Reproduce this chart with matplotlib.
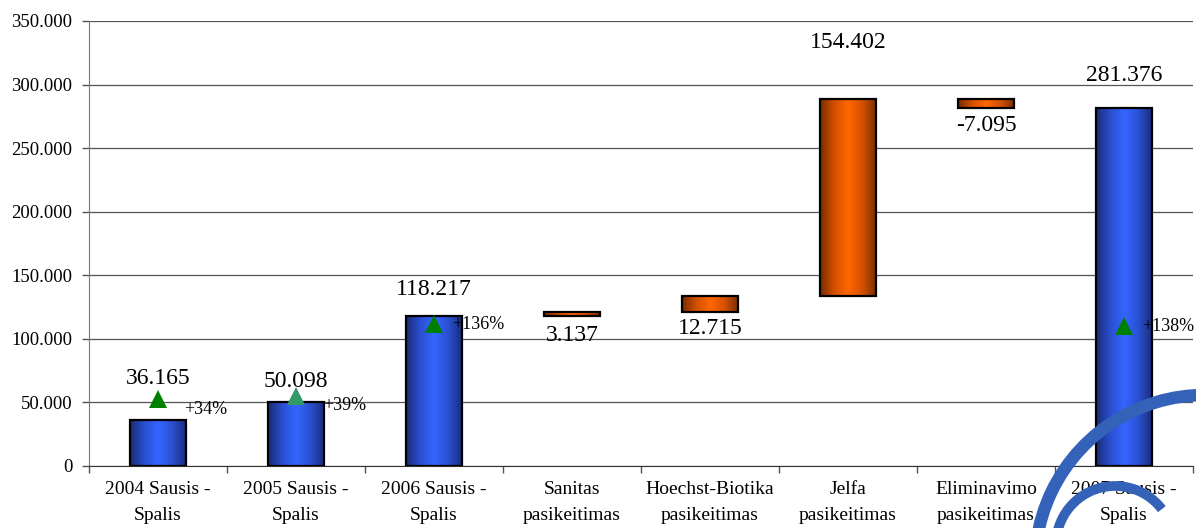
import numpy as np
import matplotlib
matplotlib.use("Agg")
import matplotlib.pyplot as plt
from matplotlib.colors import LinearSegmentedColormap
from matplotlib.patches import Arc
from matplotlib.ticker import FuncFormatter, FixedLocator

plt.rcParams['font.family'] = ['Liberation Serif', 'DejaVu Serif']

# Data
categories = ["2004 Sausis -\nSpalis", "2005 Sausis -\nSpalis", "2006 Sausis -\nSpalis",
              "Sanitas\npasikeitimas", "Hoechst-Biotika\npasikeitimas", "Jelfa\npasikeitimas",
              "Eliminavimo\npasikeitimas", "2007 Sausis -\nSpalis"]
start_totals = [36165, 50098, 118217]
changes = [3137, 12715, 154402, -7095]
end_total = 281376

# growth markers (category index, marker height, label)
growth_idx = [0, 1, 2, 7]
growth_y = [52700, 55000, 111700, 110000]
growth_labels = ["+34%", "+39%", "+136%", "+138%"]
growth_colors = ["#008000", "#339966", "#008000", "#008000"]

# label offsets in pixels (positive: above top of bar, negative: below low end)
label_off_px = [42, 21, 26, -20, -17, 57, -17, 33]
pct_off_px = [(26, -11), (27, -9), (18, -1), (18, 0)]

# build waterfall
bottoms, heights, kinds = [], [], []
for v in start_totals:
    bottoms.append(0); heights.append(v); kinds.append("total")
level = start_totals[-1]
for c in changes:
    bottoms.append(level); heights.append(c); kinds.append("change")
    level += c
bottoms.append(0); heights.append(end_total); kinds.append("total")
values = start_totals + changes + [end_total]

blue_cmap = LinearSegmentedColormap.from_list("b", ["#3466ff", "#2a4fcf", "#1a2a75"])
orange_cmap = LinearSegmentedColormap.from_list("o", ["#ff6600", "#d35000", "#772c00"])

fig = plt.figure(figsize=(11.96, 5.28), dpi=100)
ax = fig.add_axes([89 / 1196, 1 - 466 / 528, 1104 / 1196, 445 / 528])

width = 0.41
grad = np.abs(np.linspace(-1, 1, 256)).reshape(1, -1)
for i, (b, h, k) in enumerate(zip(bottoms, heights, kinds)):
    bar = ax.bar(i, h, width, bottom=b, facecolor='none', edgecolor='black',
                 linewidth=1.6, zorder=4)[0]
    im = ax.imshow(grad, cmap=blue_cmap if k == "total" else orange_cmap,
                   extent=[i - width / 2, i + width / 2, b, b + h],
                   aspect='auto', zorder=3, interpolation='bilinear')
    im.set_clip_path(bar)

# value labels
for i, (b, h, v) in enumerate(zip(bottoms, heights, values)):
    off = label_off_px[i]
    if off > 0:
        y = max(b, b + h)
    else:
        y = min(b, b + h)
    ax.annotate(f"{v:,}".replace(",", "."), (i, y), xytext=(0, off * 0.72),
                textcoords='offset points', ha='center', va='center', fontsize=17, zorder=6)

# growth triangles and percentages
for j, i in enumerate(growth_idx):
    ax.plot(i, growth_y[j], marker='^', markersize=13, color=growth_colors[j],
            markeredgewidth=0, linestyle='none', zorder=5)
    dx, dy = pct_off_px[j]
    ax.annotate(growth_labels[j], (i, growth_y[j]), xytext=(dx * 0.72, dy * 0.72),
                textcoords='offset points', ha='left', va='center', fontsize=13, zorder=6)

ax.set_xlim(-0.5, 7.5)
ax.set_ylim(0, 350000)
ax.set_yticks(np.arange(0, 350001, 50000))
ax.yaxis.set_major_formatter(FuncFormatter(lambda v, p: f"{int(v):,}".replace(",", ".")))
ax.xaxis.set_major_locator(FixedLocator(np.arange(-0.5, 8, 1)))
ax.xaxis.set_minor_locator(FixedLocator(np.arange(8)))
ax.set_xticklabels([], minor=False)
ax.set_xticklabels(categories, minor=True, fontsize=14, linespacing=1.68)
ax.tick_params(axis='x', which='major', length=5, width=1, color='#555555', direction='out')
ax.tick_params(axis='x', which='minor', length=0, pad=11)
ax.tick_params(axis='y', length=5, width=1, color='#555555', pad=7, labelsize=13.5)

ax.grid(axis='y', color='#555555', linewidth=0.9, zorder=0)
ax.set_axisbelow(True)
for s in ['top', 'right']:
    ax.spines[s].set_visible(False)
ax.spines['left'].set_color('#777777')
ax.spines['bottom'].set_color('#333333')

# decorative logo swirl at lower right
W, H = 1196, 528
for cx, cy, r, lw, t1, t2 in [(1205, 565, 170, 9, 70, 200), (1115, 545, 59, 7, 60, 200)]:
    fig.add_artist(Arc((cx / W, 1 - cy / H), 2 * r / W, 2 * r / H, theta1=t1, theta2=t2,
                       transform=fig.transFigure, color='#3462b8', linewidth=lw,
                       zorder=10, clip_on=False))

fig.savefig("out.png", dpi=100)
